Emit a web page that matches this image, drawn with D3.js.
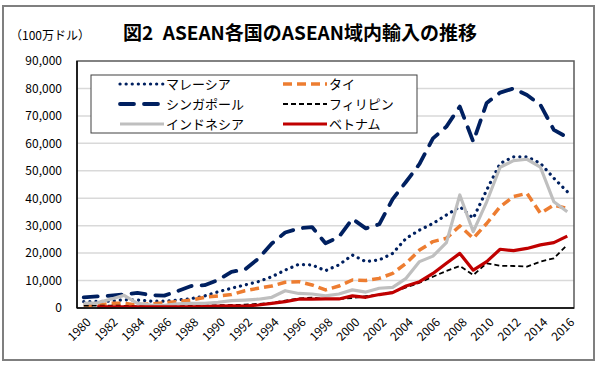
<!DOCTYPE html>
<html>
<head>
<meta charset="utf-8">
<script src="https://cdn.jsdelivr.net/npm/d3@7"></script>
<style>
  body { margin: 0; background: #fff; }
  svg text { font-family: "Noto Sans CJK JP", "Noto Sans", sans-serif; fill: #000; }
</style>
</head>
<body>
<div id="chart"></div>
<script>
// years on the category axis
var years = d3.range(1980, 2017);
var yTicks = [0, 10000, 20000, 30000, 40000, 50000, 60000, 70000, 80000, 90000];

// imports from ASEAN, million USD
var malaysia = [2300, 2400, 2500, 3000, 2900, 2500, 2500, 2900, 3400, 4400,
  5900, 7200, 8400, 9600, 11400, 13800, 15900, 15700, 13600, 15700,
  19300, 16900, 17500, 19900, 25400, 28400, 30800, 33900, 36900, 32700,
  43000, 52700, 55100, 55100, 52700, 47300, 42400];
var thailand = [1100, 1000, 1700, 1700, 1100, 1500, 1900, 2300, 2900, 3900,
  4400, 4900, 6300, 7200, 8000, 9400, 9600, 8400, 6600, 8000,
  10200, 10000, 10800, 12600, 16300, 21100, 24200, 25400, 29900, 25400,
  30800, 36900, 40600, 41800, 34500, 37500, 36300];
var singapore = [3900, 4200, 4500, 4900, 5500, 4700, 4500, 6200, 8000, 8300,
  10200, 13200, 14000, 18000, 23500, 27500, 29000, 29500, 23600, 25900,
  32500, 29000, 30500, 39700, 46000, 52500, 61800, 66100, 73400, 60600,
  74700, 78500, 80000, 77600, 74000, 64900, 62200];
var philippines = [900, 900, 900, 800, 600, 500, 500, 700, 800, 900,
  1000, 1100, 1200, 1500, 1900, 2700, 3500, 3800, 3200, 3300,
  3600, 4300, 4900, 5800, 7500, 9200, 11400, 13500, 15300, 12000,
  16300, 15400, 15300, 15100, 16900, 18100, 23000];
var indonesia = [1700, 1900, 3200, 4600, 1700, 1100, 1000, 1500, 1700, 1700,
  2100, 2700, 2900, 3200, 3900, 6300, 5300, 5100, 4400, 5100,
  6600, 5800, 7200, 7500, 10800, 16900, 18900, 23800, 41200, 27800,
  38700, 51300, 53700, 54200, 51300, 38700, 35100];
var vietnam = [null, 400, 400, 400, 400, 400, 400, 400, 400, 500,
  700, 800, 700, 1100, 1700, 2300, 3200, 3200, 3300, 3300,
  4400, 3900, 4900, 5600, 8000, 9600, 12600, 16300, 19900, 13800,
  16900, 21400, 20900, 21700, 23000, 23800, 26200];

// legend order = drawing order
var series = [
  {name: "マレーシア", values: malaysia, color: "#002060", width: 3.2, dash: "0.1 6", cap: "round"},
  {name: "タイ", values: thailand, color: "#ed7d31", width: 3.5, dash: "9 5", cap: "butt"},
  {name: "シンガポール", values: singapore, color: "#002060", width: 3.8, dash: "14 10", cap: "round"},
  {name: "フィリピン", values: philippines, color: "#000000", width: 1.8, dash: "5 3", cap: "butt"},
  {name: "インドネシア", values: indonesia, color: "#bfbfbf", width: 3.2, dash: null, cap: "butt"},
  {name: "ベトナム", values: vietnam, color: "#c00000", width: 3.2, dash: null, cap: "butt"}
];

var W = 600, H = 372;
var plot = {left: 77, right: 574, top: 61, bottom: 308};

var svg = d3.select("#chart").append("svg")
  .attr("width", W)
  .attr("height", H);

// outer frame
svg.append("rect")
  .attr("x", 3).attr("y", 6)
  .attr("width", 591).attr("height", 354)
  .attr("fill", "#fff")
  .attr("stroke", "#7f7f7f")
  .attr("stroke-width", 2);

var x = d3.scaleBand()
  .domain(years)
  .range([plot.left, plot.right]);

var y = d3.scaleLinear()
  .domain([0, 90000])
  .range([plot.bottom, plot.top]);

// gridlines
svg.append("g")
  .selectAll("line")
  .data(yTicks.slice(1, -1))
  .enter()
  .append("line")
    .attr("x1", plot.left).attr("x2", plot.right)
    .attr("y1", function(d) { return y(d); })
    .attr("y2", function(d) { return y(d); })
    .attr("stroke", "#d9d9d9")
    .attr("stroke-width", 1.5);

// y axis labels
var yAxis = svg.append("g")
  .attr("transform", "translate(" + plot.left + ",0)")
  .call(d3.axisLeft(y).tickValues(yTicks).tickSize(0).tickPadding(15)
    .tickFormat(d3.format(",")));
yAxis.select(".domain").remove();
yAxis.selectAll("text")
  .style("font-size", "12px");

// x axis labels, rotated
var xAxis = svg.append("g")
  .attr("transform", "translate(0," + plot.bottom + ")")
  .call(d3.axisBottom(x).tickValues(years.filter(function(d) { return d % 2 === 0; }))
    .tickSize(0));
xAxis.select(".domain").remove();
xAxis.selectAll("text")
  .style("font-size", "12px")
  .attr("text-anchor", "end")
  .attr("dy", "0.35em")
  .attr("transform", "translate(5,12) rotate(-45)")
  .attr("y", 0);

// lines
var line = d3.line()
  .defined(function(d) { return d.v != null; })
  .x(function(d) { return x(d.year) + x.bandwidth() / 2; })
  .y(function(d) { return y(d.v); });

series.forEach(function(s) {
  var pts = years.map(function(yr, i) { return {year: yr, v: s.values[i]}; });
  svg.append("path")
    .datum(pts)
    .attr("d", line)
    .attr("fill", "none")
    .attr("stroke", s.color)
    .attr("stroke-width", s.width)
    .attr("stroke-dasharray", s.dash)
    .attr("stroke-linecap", s.cap)
    .attr("stroke-linejoin", "round");
});

// plot border
svg.append("rect")
  .attr("x", plot.left).attr("y", plot.top)
  .attr("width", plot.right - plot.left)
  .attr("height", plot.bottom - plot.top)
  .attr("fill", "none")
  .attr("stroke", "#595959")
  .attr("stroke-width", 1.5);
svg.append("line")
  .attr("x1", plot.left).attr("x2", plot.right)
  .attr("y1", plot.bottom).attr("y2", plot.bottom)
  .attr("stroke", "#000").attr("stroke-width", 1.5);
svg.append("line")
  .attr("x1", plot.left).attr("x2", plot.left)
  .attr("y1", plot.top).attr("y2", plot.bottom)
  .attr("stroke", "#000").attr("stroke-width", 1.5);

// legend
var legend = svg.append("g");
legend.append("rect")
  .attr("x", 91).attr("y", 75)
  .attr("width", 326).attr("height", 58)
  .attr("fill", "#fff")
  .attr("stroke", "#404040")
  .attr("stroke-width", 1);

var legendCols = [120, 283];
var legendRows = [84, 104, 124];
series.forEach(function(s, i) {
  var lx = legendCols[i % 2], ly = legendRows[Math.floor(i / 2)];
  legend.append("line")
    .attr("x1", lx).attr("x2", lx + 44)
    .attr("y1", ly).attr("y2", ly)
    .attr("stroke", s.color)
    .attr("stroke-width", s.width)
    .attr("stroke-dasharray", s.dash)
    .attr("stroke-linecap", s.cap);
  legend.append("text")
    .attr("x", lx + 46)
    .attr("y", ly)
    .attr("dy", "0.35em")
    .style("font-size", "13px")
    .text(s.name);
});

// title and unit
svg.append("text")
  .attr("x", 300)
  .attr("y", 40)
  .attr("text-anchor", "middle")
  .style("font-size", "19px")
  .style("font-weight", "bold")
  .text("図2\u2002ASEAN各国のASEAN域内輸入の推移");

svg.append("text")
  .attr("x", 10)
  .attr("y", 40)
  .style("font-size", "12px")
  .text("（100万ドル）");
</script>
</body>
</html>
